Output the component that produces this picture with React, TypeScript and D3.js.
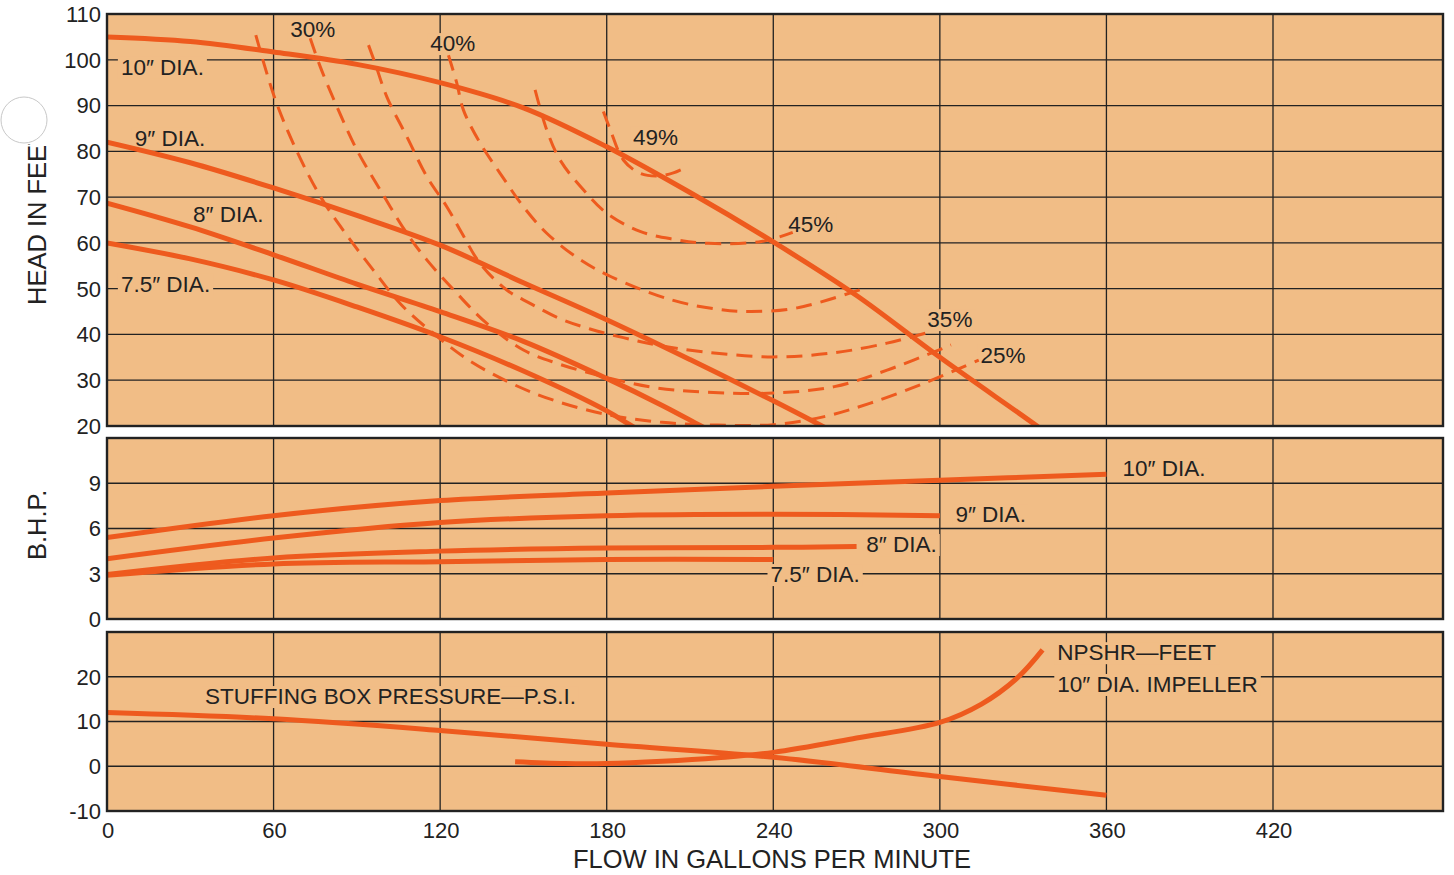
import { useEffect, useRef } from 'react'
import * as d3 from 'd3'

type Pt = [number, number]

// Axis ticks
const flowTicks = [0, 60, 120, 180, 240, 300, 360, 420]
const headTicks = [110, 100, 90, 80, 70, 60, 50, 40, 30, 20]
const bhpTicks = [0, 3, 6, 9]
const psiTicks = [-10, 0, 10, 20]

// Head-capacity curves (gpm, feet) per impeller diameter
const head10: Pt[] = [[0, 105], [30, 104], [60, 101.7], [90, 99], [120, 95], [150, 89.5], [180, 81], [210, 71], [240, 60.2], [270, 48.5], [300, 35], [335, 20], [345, 15.5]]
const head9: Pt[] = [[0, 82], [30, 77.5], [60, 72], [90, 66], [120, 59.5], [150, 51.3], [180, 43.2], [210, 34.5], [240, 25.5], [256, 20.5], [270, 16]]
const head8: Pt[] = [[0, 68.7], [30, 63.5], [60, 57.4], [90, 51], [120, 45], [150, 38.5], [180, 30.4], [200, 24.5], [214, 20], [225, 16.5]]
const head75: Pt[] = [[0, 60], [30, 56.5], [60, 51.9], [90, 46], [120, 39.5], [150, 32], [180, 23.3], [188, 20.4], [200, 16]]

// Iso-efficiency curves (gpm, feet)
const eff25: Pt[] = [[53.6, 105.4], [60.5, 91.5], [68.4, 80], [77, 70], [86, 62], [96, 54], [106, 46.5], [118, 40], [130, 34.5], [145, 29.5], [160, 25.8], [180, 22.5], [200, 20.8], [220, 20.2], [240, 20.3], [258, 22], [275, 25], [295, 29.5], [314, 34.4]]
const eff30: Pt[] = [[73.2, 104.7], [76.8, 98.5], [82.8, 89.8], [90, 80.3], [98.4, 71.6], [108, 62.1], [115.2, 56.3], [126, 49], [136.8, 42.4], [150, 36.6], [162, 33.7], [180, 30.6], [197, 28.4], [215, 27.4], [240, 27.2], [262, 28.6], [281, 32.2], [304, 37.7]]
const eff35: Pt[] = [[94.2, 103.2], [96.6, 99.2], [100.8, 91.9], [108, 83.2], [115.2, 74.5], [122.4, 67.9], [127.5, 62.5], [134.4, 55.5], [144, 49.7], [152.4, 46.8], [163, 43.5], [174, 41.2], [186, 39.3], [198, 37.7], [215, 36.2], [240, 35.1], [262, 36], [281, 38.1], [295.6, 40.4]]
const eff40: Pt[] = [[123, 101], [126, 94.9], [128.4, 89], [134.4, 81.8], [141.6, 75.2], [150, 67.9], [158.4, 62.1], [170, 56.5], [181.6, 52.6], [203.6, 47.5], [220, 45.5], [232, 45], [248.6, 45.8], [272.4, 50]]
const eff45: Pt[] = [[154.2, 93.4], [158.4, 84.7], [163.2, 78.1], [171.6, 71.6], [180, 66.5], [192, 62.5], [204, 60.8], [216.6, 59.9], [235.7, 60.3], [247, 62.3]]
const eff49: Pt[] = [[178.8, 88.7], [181.3, 84.7], [186, 78.1], [192, 75.2], [198, 74.6], [204, 75.3], [208.8, 76.6]]

// Brake horsepower (gpm, hp)
const bhp10: Pt[] = [[0, 5.4], [60, 6.85], [120, 7.85], [180, 8.35], [240, 8.8], [300, 9.2], [360, 9.6]]
const bhp9: Pt[] = [[0, 4.0], [60, 5.37], [120, 6.4], [180, 6.85], [240, 6.95], [300, 6.85]]
const bhp8: Pt[] = [[0, 2.95], [60, 4.05], [120, 4.5], [180, 4.7], [240, 4.75], [270, 4.8]]
const bhp75: Pt[] = [[0, 2.9], [60, 3.65], [120, 3.8], [180, 3.95], [240, 3.95]]

// Stuffing box pressure (psi) and NPSHR (feet)
const stuffing: Pt[] = [[0, 12], [60, 10.6], [120, 8], [180, 4.9], [240, 2], [300, -2.3], [360, -6.5]]
const npshr: Pt[] = [[147, 1.0], [165, 0.6], [180, 0.6], [200, 1.1], [220, 1.9], [240, 3.1], [270, 6.3], [300, 9.8], [315, 13.9], [328, 19.8], [337, 26]]

// Curve labels anchored in data units: [text, gpm, value]
const headLabels: [string, number, number][] = [
  ['10\u2033 DIA.', 5, 96.7],
  ['9\u2033 DIA.', 10, 81.2],
  ['8\u2033 DIA.', 31, 64.6],
  ['7.5\u2033 DIA.', 5, 49.3],
  ['30%', 66, 105],
  ['40%', 116.4, 101.9],
  ['49%', 189.5, 81.4],
  ['45%', 245.4, 62.4],
  ['35%', 295.5, 41.6],
  ['25%', 314.6, 33.8],
]
const bhpLabels: [string, number, number][] = [
  ['10\u2033 DIA.', 365.8, 9.48],
  ['9\u2033 DIA.', 305.6, 6.43],
  ['8\u2033 DIA.', 273.5, 4.44],
  ['7.5\u2033 DIA.', 239, 2.45],
]
const psiLabels: [string, number, number][] = [
  ['STUFFING BOX PRESSURE\u2014P.S.I.', 35.3, 13.9],
  ['NPSHR\u2014FEET', 342.3, 23.7],
  ['10\u2033 DIA. IMPELLER', 342.3, 16.6],
]

const BG = '#F1BD86'
const ORANGE = '#EE5A1E'
const INK = '#222'
const FONT = '"Liberation Sans", Arial, Helvetica, sans-serif'

const App = () => {
  const svgRef = useRef<SVGSVGElement>(null)
  const width = 1454
  const height = 875

  useEffect(() => {
    document.body.style.margin = '0'
    const svg = d3.select(svgRef.current)
    svg.selectAll('*').remove()

    const left = 107
    const right = 1443
    const x = d3.scaleLinear().domain([0, 420]).range([107, 1273])
    const yHead = d3.scaleLinear().domain([20, 110]).range([426, 14])
    const yBhp = d3.scaleLinear().domain([0, 12]).range([619, 438])
    const yPsi = d3.scaleLinear().domain([-10, 30]).range([811, 632])

    // Draws one panel: background, grid, label patches, curves, labels, frame
    function panel(
      id: string,
      y: d3.ScaleLinear<number, number>,
      ticks: number[],
      solid: Pt[][],
      dashed: Pt[][],
      labels: [string, number, number][]
    ) {
      const [y0, y1] = y.range()
      const top = Math.min(y0, y1)
      const bottom = Math.max(y0, y1)
      const g = svg.append('g')

      g.append('rect')
        .attr('x', left).attr('y', top)
        .attr('width', right - left).attr('height', bottom - top)
        .attr('fill', BG)

      g.append('clipPath').attr('id', 'clip-' + id)
        .append('rect')
        .attr('x', left).attr('y', top)
        .attr('width', right - left).attr('height', bottom - top)

      // horizontal grid
      g.selectAll('.hgrid')
        .data(ticks.filter((t) => y(t) > top + 2 && y(t) < bottom - 2))
        .enter().append('line')
        .attr('x1', left).attr('x2', right)
        .attr('y1', (d) => y(d)).attr('y2', (d) => y(d))
        .attr('stroke', INK).attr('stroke-width', 1.3)
      // vertical grid
      g.selectAll('.vgrid')
        .data(flowTicks.filter((t) => t > 0))
        .enter().append('line')
        .attr('x1', (d) => x(d)).attr('x2', (d) => x(d))
        .attr('y1', top).attr('y2', bottom)
        .attr('stroke', INK).attr('stroke-width', 1.3)

      // y tick labels
      g.selectAll('.ytick')
        .data(ticks)
        .enter().append('text')
        .attr('x', 101).attr('y', (d) => y(d))
        .attr('dy', '0.36em')
        .attr('text-anchor', 'end')
        .style('font-family', FONT).style('font-size', '22px')
        .attr('fill', INK)
        .text((d) => d)

      const patches = g.append('g')
      const curves = g.append('g').attr('clip-path', `url(#clip-${id})`)
      const labelGroup = g.append('g')

      // label texts, with a background patch so grid lines break around them
      labels.forEach(([t, gx, gy]) => {
        const text = labelGroup.append('text')
          .attr('x', x(gx)).attr('y', y(gy))
          .style('font-family', FONT).style('font-size', '22.5px')
          .attr('fill', INK)
          .text(t)
        const b = (text.node() as SVGTextElement).getBBox()
        patches.append('rect')
          .attr('x', b.x - 3).attr('y', b.y + 2)
          .attr('width', b.width + 6).attr('height', b.height - 3)
          .attr('fill', BG)
      })

      const line = d3.line<Pt>()
        .x((d) => x(d[0]))
        .y((d) => y(d[1]))
        .curve(d3.curveCatmullRom.alpha(0.5))

      curves.selectAll('.solid')
        .data(solid)
        .enter().append('path')
        .attr('d', (d) => line(d))
        .attr('fill', 'none')
        .attr('stroke', ORANGE)
        .attr('stroke-width', 5)
      curves.selectAll('.dashed')
        .data(dashed)
        .enter().append('path')
        .attr('d', (d) => line(d))
        .attr('fill', 'none')
        .attr('stroke', ORANGE)
        .attr('stroke-width', 3)
        .attr('stroke-dasharray', '16,9')

      // frame
      g.append('rect')
        .attr('x', left).attr('y', top)
        .attr('width', right - left).attr('height', bottom - top)
        .attr('fill', 'none')
        .attr('stroke', INK).attr('stroke-width', 2.4)
    }

    panel('head', yHead, headTicks, [head10, head9, head8, head75], [eff25, eff30, eff35, eff40, eff45, eff49], headLabels)
    panel('bhp', yBhp, bhpTicks, [bhp10, bhp9, bhp8, bhp75], [], bhpLabels)
    panel('psi', yPsi, psiTicks, [stuffing, npshr], [], psiLabels)

    // x tick labels
    svg.selectAll('.xtick')
      .data(flowTicks)
      .enter().append('text')
      .attr('x', (d) => x(d) + 1).attr('y', 838)
      .attr('text-anchor', 'middle')
      .style('font-family', FONT).style('font-size', '22px')
      .attr('fill', INK)
      .text((d) => d)

    // axis titles
    svg.append('text')
      .attr('x', 772).attr('y', 868)
      .attr('text-anchor', 'middle')
      .style('font-family', FONT).style('font-size', '25.5px')
      .attr('fill', INK)
      .text('FLOW IN GALLONS PER MINUTE')

    // the head title runs under a punched hole in the scanned page
    svg.append('clipPath').attr('id', 'clip-head-title')
      .append('rect')
      .attr('x', 0).attr('y', 144).attr('width', 100).attr('height', 300)
    svg.append('g')
      .attr('clip-path', 'url(#clip-head-title)')
      .append('text')
      .attr('transform', 'translate(46,305) rotate(-90)')
      .style('font-family', FONT).style('font-size', '25.5px')
      .attr('fill', INK)
      .text('HEAD IN FEET')
    svg.append('text')
      .attr('transform', 'translate(46,560) rotate(-90)')
      .style('font-family', FONT).style('font-size', '25.5px')
      .attr('fill', INK)
      .text('B.H.P.')

    svg.append('circle')
      .attr('cx', 24).attr('cy', 120).attr('r', 23)
      .attr('fill', '#fff')
      .attr('stroke', '#c8c8c8').attr('stroke-width', 1)
  }, [])

  return <svg ref={svgRef} width={width} height={height} style={{ display: 'block' }} />
}

export default App
